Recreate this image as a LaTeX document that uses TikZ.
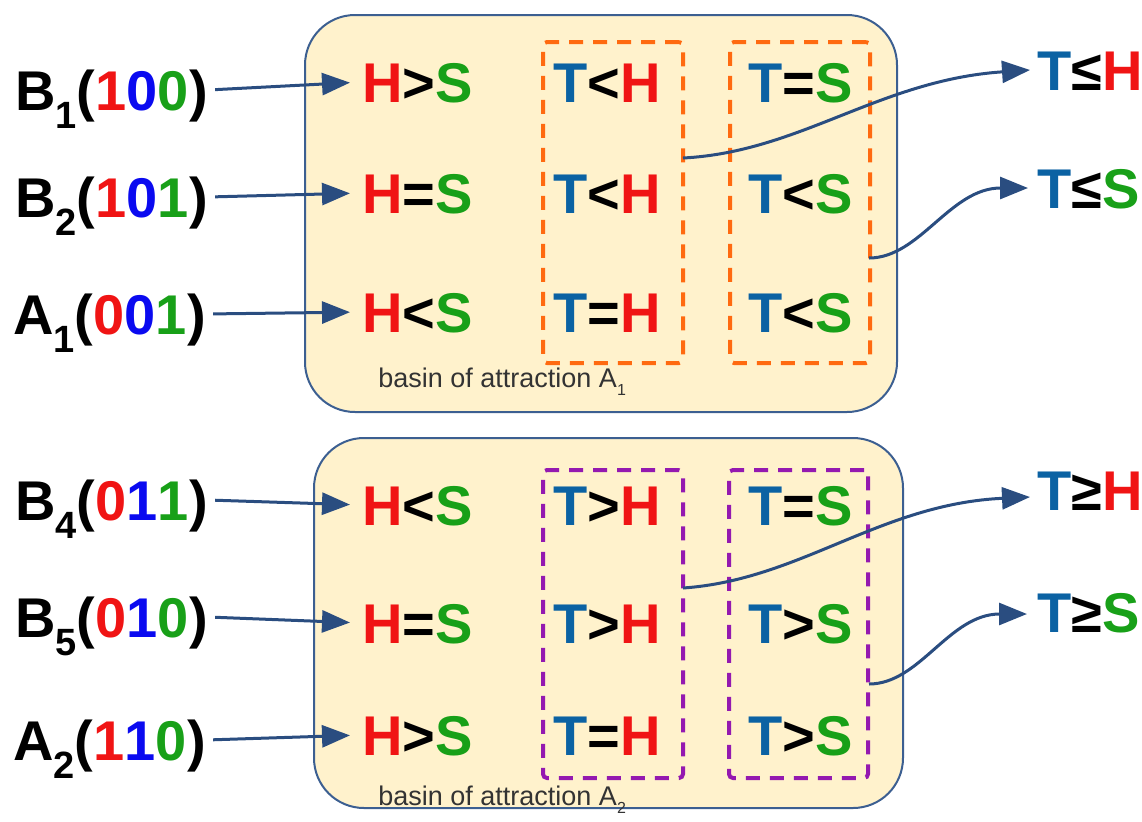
\documentclass[tikz,border=0pt]{standalone}
\usepackage{fontspec}
\setmainfont{Liberation Sans}
\usetikzlibrary{arrows.meta,fit}
\definecolor{cT}{HTML}{0B62A3}
\definecolor{cH}{HTML}{F01414}
\definecolor{cS}{HTML}{18A018}
\definecolor{cD}{HTML}{0A0AF0}
\definecolor{carrow}{HTML}{2A4D80}
\definecolor{cborder}{HTML}{3C5F91}
\definecolor{cfill}{HTML}{FFF2CC}
\definecolor{corange}{HTML}{FF6A10}
\definecolor{cpurple}{HTML}{9419B0}
\definecolor{cgray}{HTML}{333333}
\newcommand\tR[1]{\textcolor{cH}{#1}}
\newcommand\tG[1]{\textcolor{cS}{#1}}
\newcommand\tT[1]{\textcolor{cT}{#1}}
\newcommand\tD[1]{\textcolor{cD}{#1}}
\newcommand\lsub[1]{\raisebox{-9pt}{\fontsize{19}{19}\selectfont #1}}
\newcommand\ssub[1]{\raisebox{-4pt}{\fontsize{8}{8}\selectfont #1}}
\begin{document}
\begin{tikzpicture}[x=0.5pt,y=-0.5pt,
  txt/.style={font=\fontsize{28}{30}\selectfont\bfseries, inner sep=0pt, text height=20pt, text depth=0pt, anchor=base west},
  basin/.style={draw=cborder, line width=1pt, fill=cfill, rounded corners=25pt, inner sep=0pt},
  obox/.style={draw=corange, line width=2pt, dash pattern=on 7pt off 5pt, rounded corners=2pt, inner sep=0pt},
  pbox/.style={draw=cpurple, line width=2pt, dash pattern=on 7pt off 5pt, rounded corners=2pt, inner sep=0pt},
  arr/.style={draw=carrow, line width=1.5pt, -{Triangle[length=14pt,width=11pt]}},
  note/.style={font=\fontsize{13.5}{14}\selectfont, text=cgray, inner sep=0pt, anchor=base west}]
\useasboundingbox (0,0) rectangle (1142,821);

% basins
\node[basin, fit={(305,15) (897,412)}] (box1) {};
\node[basin, fit={(314,438) (903,808)}] (box2) {};

% dashed groups
\node[obox, fit={(543,42) (683,363)}] (o1) {};
\node[obox, fit={(730,42) (870,363)}] (o2) {};
\node[pbox, fit={(543,470) (683,778)}] (p1) {};
\node[pbox, fit={(729,470) (868,778)}] (p2) {};

% left labels
\node[txt] (b1) at (15,110) {B\lsub{1}(\tR{1}\tD{0}\tG{0})};
\node[txt] (b2) at (15,217) {B\lsub{2}(\tR{1}\tD{0}\tG{1})};
\node[txt] (a1) at (13,334) {A\lsub{1}(\tR{0}\tD{0}\tG{1})};
\node[txt] (b4) at (15,520) {B\lsub{4}(\tR{0}\tD{1}\tG{1})};
\node[txt] (b5) at (15,637) {B\lsub{5}(\tR{0}\tD{1}\tG{0})};
\node[txt] (a2) at (13,760) {A\lsub{2}(\tR{1}\tD{1}\tG{0})};

% column 1
\node[txt] (h1) at (362,102) {\tR{H}>\tG{S}};
\node[txt] (h2) at (362,213) {\tR{H}=\tG{S}};
\node[txt] (h3) at (362,332) {\tR{H}<\tG{S}};
\node[txt] (h4) at (362,525) {\tR{H}<\tG{S}};
\node[txt] (h5) at (362,643) {\tR{H}=\tG{S}};
\node[txt] (h6) at (362,755) {\tR{H}>\tG{S}};

% column 2
\node[txt] (m1) at (553,102) {\tT{T}<\tR{H}};
\node[txt] (m2) at (553,213) {\tT{T}<\tR{H}};
\node[txt] (m3) at (553,332) {\tT{T}=\tR{H}};
\node[txt] (m4) at (553,525) {\tT{T}>\tR{H}};
\node[txt] (m5) at (553,643) {\tT{T}>\tR{H}};
\node[txt] (m6) at (553,755) {\tT{T}=\tR{H}};

% column 3
\node[txt] (r1) at (748,102) {\tT{T}=\tG{S}};
\node[txt] (r2) at (748,213) {\tT{T}<\tG{S}};
\node[txt] (r3) at (748,332) {\tT{T}<\tG{S}};
\node[txt] (r4) at (748,525) {\tT{T}=\tG{S}};
\node[txt] (r5) at (748,643) {\tT{T}>\tG{S}};
\node[txt] (r6) at (748,755) {\tT{T}>\tG{S}};

% right results
\node[txt] (q1) at (1037,90) {\tT{T}≤\tR{H}};
\node[txt] (q2) at (1037,208) {\tT{T}≤\tG{S}};
\node[txt] (q3) at (1037,510) {\tT{T}≥\tR{H}};
\node[txt] (q4) at (1037,632) {\tT{T}≥\tG{S}};

% basin captions
\node[note] (n1) at (378,387) {basin of attraction A\ssub{1}};
\node[note] (n2) at (378,805) {basin of attraction A\ssub{2}};

% left arrows
\foreach \s/\t in {b1/h1,b2/h2,a1/h3,b4/h4,b5/h5,a2/h6}
  \draw[arr, shorten <=3.5pt, shorten >=6pt] (\s.east) -- (\t.west);

% curved arrows
\coordinate (s1) at (683,158);
\coordinate (s2) at (869,258);
\coordinate (s3) at (683,588);
\coordinate (s4) at (869,684);
\draw[arr] (s1) .. controls +(117,-6) and +(-150,10) .. ([xshift=-3.5pt]q1.west);
\draw[arr] (s2) .. controls +(51,0) and +(-78,0) .. ([xshift=-4.5pt]q2.west);
\draw[arr] (s3) .. controls +(117,-8) and +(-150,7) .. ([xshift=-3.5pt,yshift=-3.5pt]q3.west);
\draw[arr] (s4) .. controls +(51,0) and +(-78,0) .. ([xshift=-5pt,yshift=-1pt]q4.west);
\end{tikzpicture}
\end{document}
